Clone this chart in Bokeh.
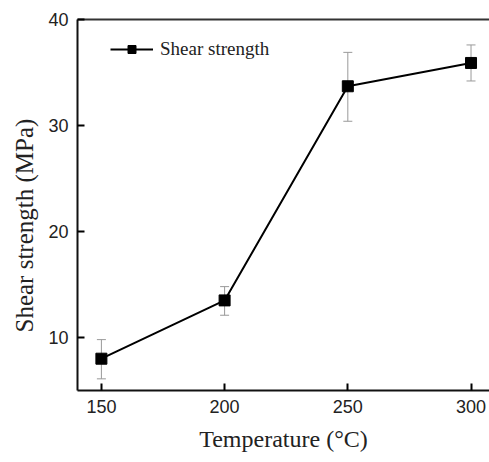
from bokeh.plotting import figure
from bokeh.models import Whisker, ColumnDataSource, LinearAxis, TeeHead, Legend, LegendItem, FixedTicker, Title
from bokeh.embed import file_html
from bokeh.resources import INLINE

temperature = [150, 200, 250, 300]
strength = [8.0, 13.5, 33.7, 35.9]
err_upper = [9.8, 14.8, 36.9, 37.6]
err_lower = [6.1, 12.1, 30.4, 34.2]
x_ticks = [150, 200, 250, 300]
y_ticks = [10, 20, 30, 40]

src = ColumnDataSource(dict(x=temperature, y=strength, up=err_upper, lo=err_lower))

p = figure(width=489, height=454, output_backend="svg", toolbar_location=None,
           x_range=(140.3, 307.5), y_range=(5, 40),
           min_border_left=77, min_border_right=0, min_border_top=19, min_border_bottom=64)
p.outline_line_color = None
p.grid.grid_line_color = None

xax = p.below[0]
yax = p.left[0]

top = LinearAxis(ticker=FixedTicker(ticks=[]), major_tick_line_color=None, minor_tick_line_color=None,
                 major_label_standoff=0, axis_line_color="#333333", axis_line_width=2)
p.add_layout(top, "above")

for ax in (xax, yax):
    ax.axis_line_width = 2
    ax.axis_line_color = "#111111"
    ax.major_tick_in = 7
    ax.major_tick_out = 0
    ax.minor_tick_in = 4
    ax.minor_tick_out = 0
    ax.major_tick_line_width = 2
    ax.minor_tick_line_width = 2
    ax.major_label_text_font = "Liberation Sans"
    ax.major_label_text_font_size = "18px"
    ax.major_label_text_color = "#222222"
    ax.axis_label_text_font = "Liberation Serif"
    ax.axis_label_text_font_size = "24px"
    ax.axis_label_text_font_style = "normal"
    ax.axis_label_text_color = "#222222"

xax.ticker = x_ticks
xax.ticker.num_minor_ticks = 2
yax.ticker = y_ticks
yax.ticker.num_minor_ticks = 2
xax.major_label_standoff = 9
xax.axis_label_standoff = 10
yax.major_label_standoff = 9
xax.axis_label = "Temperature (°C)"

ytitle = Title(text="Shear strength (MPa)", align="left", offset=58, standoff=16,
               text_font="Liberation Serif", text_font_size="25px", text_font_style="normal",
               text_color="#222222")
p.add_layout(ytitle, "left")

w = Whisker(source=src, base="x", upper="up", lower="lo", line_color="#999999", line_width=1,
            upper_head=TeeHead(size=9, line_color="#999999", line_width=1),
            lower_head=TeeHead(size=9, line_color="#999999", line_width=1))
p.add_layout(w)

r_line = p.line("x", "y", source=src, line_color="black", line_width=2)
r_pts = p.scatter("x", "y", source=src, marker="square", size=11, fill_color="black", line_color="black")

legend = Legend(items=[LegendItem(label="Shear strength", renderers=[r_line, r_pts])],
                location=(33, 330), padding=0, margin=0, border_line_color=None,
                background_fill_alpha=0, glyph_width=43, glyph_height=20, label_height=20,
                label_standoff=7, label_text_font="Liberation Serif", label_text_font_size="19px",
                label_text_font_style="normal", label_text_color="#222222")
p.add_layout(legend, "center")

open("out.html", "w").write(file_html(p, INLINE))
